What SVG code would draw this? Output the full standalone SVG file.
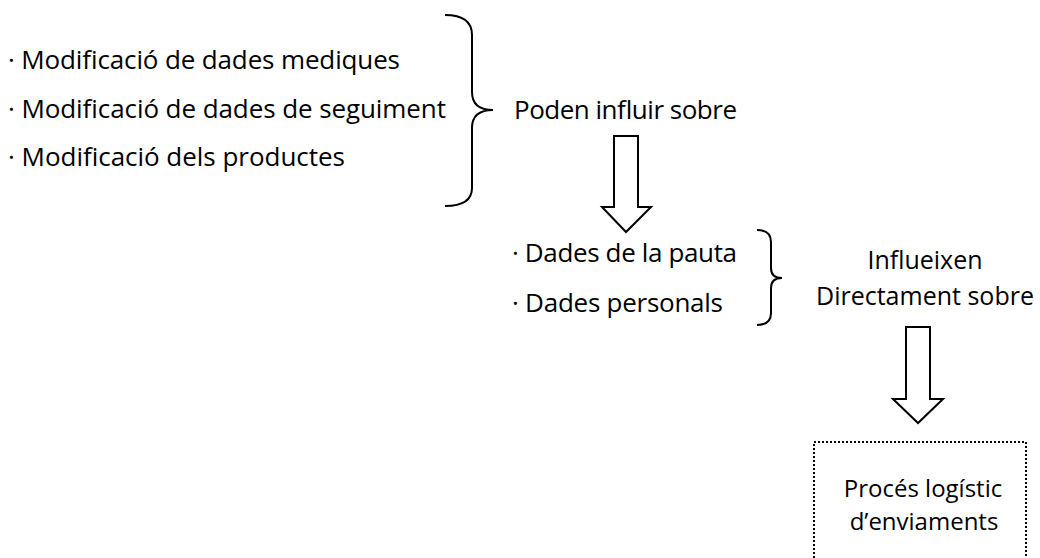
<svg xmlns="http://www.w3.org/2000/svg" width="1040" height="558" viewBox="0 0 1040 558">
<style>
text{font-family:"Open Sans","Liberation Sans",sans-serif;font-size:26px;fill:#000}
.m{font-size:25px;text-anchor:middle}
.b{font-size:24px;text-anchor:middle}
.ln{fill:none;stroke:#000;stroke-width:2;stroke-linejoin:miter}
.dot{fill:none;stroke:#000;stroke-width:2;stroke-dasharray:2 2}
</style>
<rect width="1040" height="558" fill="#fff"/>
<g id="list1">
<text x="8" y="69" textLength="392">· Modificació de dades mediques</text>
<text x="8" y="118" textLength="438">· Modificació de dades de seguiment</text>
<text x="8" y="166" textLength="337">· Modificació dels productes</text>
</g>
<g id="brace1"><path class="ln" d="M445,15 Q472,15 472,35 L472,92 Q472,110 493,110 Q472,110 472,128 L472,188 Q472,206 445,206"/></g>
<g id="label1"><text x="514" y="119" textLength="223">Poden influir sobre</text></g>
<g id="list2">
<text x="512" y="262" textLength="225">· Dades de la pauta</text>
<text x="512" y="312" textLength="211">· Dades personals</text>
</g>
<g id="brace2"><path class="ln" d="M757,230 Q771,230 771,242 L771,268 Q771,278 782,278 Q771,278 771,288 L771,313 Q771,325 757,325"/></g>
<g id="label2">
<text class="m" x="925" y="269">Influeixen</text>
<text class="m" x="925" y="305">Directament sobre</text>
</g>
<g id="box">
<rect class="dot" x="814" y="442" width="212" height="130"/>
<text class="b" x="923" y="497">Procés logístic</text>
<text class="b" x="924" y="530">d’enviaments</text>
</g>
<g id="connectors">
<path class="ln" d="M614,136 L638,136 L638,207 L651,207 L626,232 L602,207 L614,207 Z"/>
<path class="ln" d="M906,327 L930,327 L930,399 L943,399 L918,423 L893,399 L906,399 Z"/>
</g>
</svg>
